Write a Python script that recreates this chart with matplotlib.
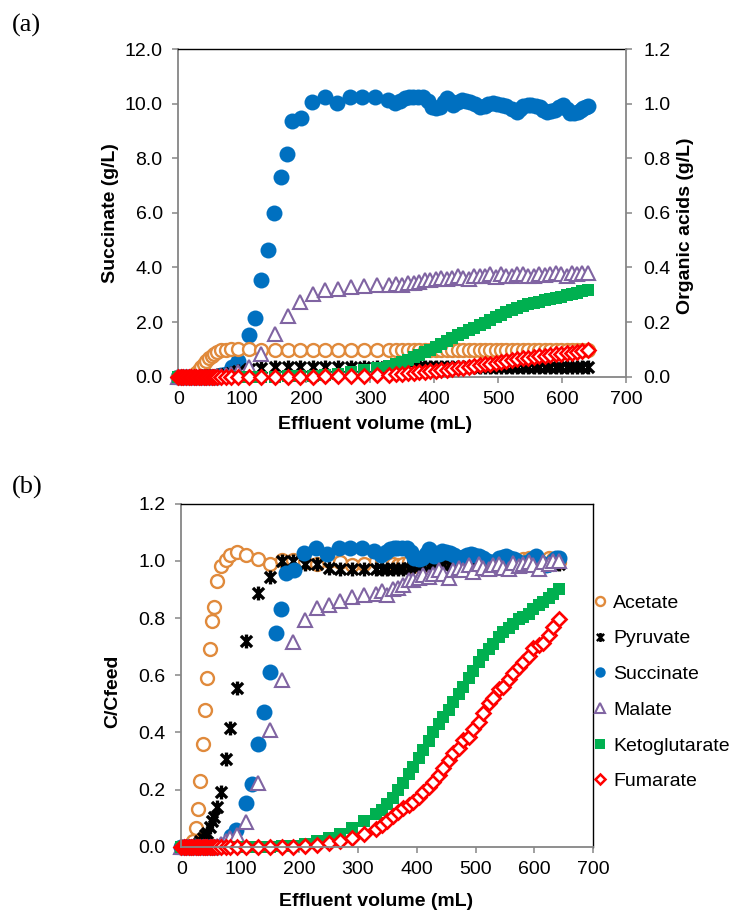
import matplotlib as mpl
mpl.use('Agg')
import matplotlib.pyplot as plt
from matplotlib.lines import Line2D
from matplotlib.path import Path
from matplotlib.ticker import FormatStrFormatter, MultipleLocator
import numpy as np

plt.rcParams['font.family'] = ['Liberation Sans', 'DejaVu Sans']

# effluent volume of the collected fractions (mL)
vol = [0, 4, 8, 12, 16, 20, 24, 28, 32, 36,
       40, 44, 48, 52, 56, 61, 67, 75, 83, 94,
       110, 130, 151, 171, 190, 210, 230, 250, 270, 290,
       310, 330, 340, 350, 359, 368, 377, 386, 394, 403,
       411, 420, 428, 437, 445, 454, 462, 471, 479, 488,
       496, 505, 513, 522, 530, 539, 547, 556, 564, 573,
       581, 590, 598, 607, 615, 624, 632, 641]

# succinate fractions were taken on their own schedule
vol_succ = [0, 4, 8, 12, 16, 20, 24, 28, 32, 36,
            40, 44, 48, 52, 56, 61, 67, 75, 84, 93,
            110, 120, 130, 140, 150, 160, 170, 178, 192, 209,
            229, 248, 268, 287, 307, 328, 339, 347, 354, 361,
            367, 375, 383, 390, 396, 403, 409, 415, 420, 425,
            430, 437, 443, 450, 456, 464, 472, 479, 485, 492,
            498, 506, 513, 521, 529, 534, 539, 546, 552, 559,
            565, 571, 576, 583, 589, 596, 602, 607, 612, 619,
            625, 629, 633, 637, 641]

# breakthrough, C/Cfeed
acetate = [0, 0, 0, 0, 0.005, 0.02, 0.065, 0.132, 0.232, 0.36,
           0.479, 0.59, 0.691, 0.79, 0.84, 0.928, 0.983, 1.001, 1.021, 1.029,
           1.021, 1.006, 0.99, 1.001, 1.001, 0.995, 0.99, 1.0, 0.995, 0.985,
           0.99, 1.0, 1.003, 0.995, 0.99, 0.985, 0.99, 0.995, 0.98, 0.985,
           0.98, 0.99, 0.995, 0.99, 1.0, 0.995, 0.99, 0.985, 0.99, 1.0,
           0.995, 1.0, 1.005, 0.995, 0.99, 1.0, 1.005, 1.0, 0.995, 1.0,
           1.005, 1.01, 1.0, 0.995, 1.0, 1.01, 1.005, 0.997]

pyruvate = [0, 0, 0, 0, 0, 0, 0.005, 0.01, 0.02, 0.03,
            0.042, 0.048, 0.07, 0.09, 0.106, 0.141, 0.193, 0.307, 0.415, 0.555,
            0.721, 0.887, 0.943, 0.998, 0.998, 0.99, 0.99, 0.975, 0.972, 0.972,
            0.972, 0.972, 0.97, 0.972, 0.97, 0.972, 0.97, 0.975, 0.98, 0.982,
            0.985, 0.98, 0.985, 0.99, 0.985, 0.99, 0.985, 0.99, 0.985, 0.99,
            0.99, 0.985, 0.99, 0.985, 0.99, 0.985, 0.99, 0.985, 0.99, 0.985,
            0.99, 0.985, 0.99, 0.985, 0.99, 0.985, 0.99, 0.99]

succinate = [0, 0, 0, 0, 0, 0, 0, 0, 0, 0,
             0, 0, 0, 0, 0, 0, 0.005, 0.01, 0.038, 0.059,
             0.155, 0.22, 0.36, 0.473, 0.611, 0.747, 0.831, 0.957, 0.966, 1.027,
             1.044, 1.022, 1.044, 1.046, 1.044, 1.034, 1.021, 1.03, 1.04, 1.044,
             1.046, 1.045, 1.044, 1.03, 1.009, 1.005, 1.009, 1.025, 1.04, 1.03,
             1.015, 1.025, 1.034, 1.032, 1.028, 1.02, 1.009, 1.012, 1.019, 1.022,
             1.019, 1.015, 1.011, 1.0, 0.99, 1.0, 1.011, 1.014, 1.015, 1.01,
             1.006, 0.998, 0.99, 0.993, 0.997, 1.006, 1.015, 1.0, 0.984, 0.985,
             0.99, 0.997, 1.003, 1.008, 1.011]

malate = [0, 0, 0, 0, 0, 0, 0, 0, 0, 0,
          0, 0, 0, 0, 0, 0.005, 0.01, 0.02, 0.03, 0.042,
          0.089, 0.223, 0.409, 0.584, 0.716, 0.794, 0.835, 0.845, 0.86, 0.875,
          0.881, 0.885, 0.893, 0.881, 0.9, 0.905, 0.915, 0.934, 0.934, 0.94,
          0.95, 0.945, 0.955, 0.969, 0.955, 0.94, 0.969, 0.975, 0.969, 0.985,
          0.96, 0.99, 0.975, 0.97, 0.985, 0.99, 0.975, 0.97, 0.992, 0.98,
          0.99, 0.995, 0.985, 0.97, 0.995, 0.99, 1.0, 1.0]

ketoglutarate = [0, 0, 0, 0, 0, 0, 0, 0, 0, 0,
                 0, 0, 0, 0, 0, 0, 0, 0, 0, 0,
                 0, 0, 0, 0.003, 0.005, 0.01, 0.02, 0.03, 0.045, 0.065,
                 0.09, 0.115, 0.13, 0.15, 0.17, 0.2, 0.225, 0.255, 0.28, 0.31,
                 0.34, 0.37, 0.4, 0.43, 0.455, 0.48, 0.505, 0.535, 0.56, 0.59,
                 0.615, 0.645, 0.67, 0.69, 0.71, 0.735, 0.75, 0.765, 0.78, 0.795,
                 0.805, 0.815, 0.83, 0.845, 0.855, 0.87, 0.885, 0.9]

fumarate = [0, 0, 0, 0, 0, 0, 0, 0, 0, 0,
            0, 0, 0, 0, 0, 0, 0, 0, 0, 0,
            0, 0, 0, 0, 0, 0.003, 0.008, 0.013, 0.02, 0.03,
            0.045, 0.063, 0.078, 0.092, 0.11, 0.123, 0.135, 0.147, 0.158, 0.176,
            0.193, 0.211, 0.228, 0.252, 0.275, 0.304, 0.328, 0.345, 0.374, 0.386,
            0.411, 0.438, 0.467, 0.502, 0.52, 0.551, 0.56, 0.586, 0.607, 0.63,
            0.648, 0.668, 0.695, 0.706, 0.714, 0.741, 0.768, 0.796]

# feed concentrations (g/L)
SUCC_FEED = 9.8
ACET_FEED = 0.098
PYR_FEED = 0.037
MAL_FEED = 0.38
KETO_FEED = 0.353
FUM_FEED = 0.122

ORANGE = '#E08A3C'
BLUE = '#0070C0'
PURPLE = '#8064A2'
GREEN = '#00B050'
RED = '#FF0000'
GRAY = '#868686'

# asterisk: X with a vertical bar
star = Path([(-1, -1), (1, 1), (-1, 1), (1, -1), (0, -1.25), (0, 1.25)],
            [Path.MOVETO, Path.LINETO, Path.MOVETO, Path.LINETO, Path.MOVETO, Path.LINETO])

sty = {
    'Acetate': dict(marker='o', ms=9.3, mfc='white', mec=ORANGE, mew=1.7),
    'Pyruvate': dict(marker=star, ms=10, mfc='none', mec='black', mew=2.4),
    'Succinate': dict(marker='o', ms=11.5, mfc=BLUE, mec=BLUE, mew=0),
    'Malate': dict(marker='^', ms=10, mfc='white', mec=PURPLE, mew=1.5),
    'Ketoglutarate': dict(marker='s', ms=9.3, mfc=GREEN, mec=GREEN, mew=0),
    'Fumarate': dict(marker='D', ms=7, mfc='white', mec=RED, mew=1.9),
}

FS = 14


def dress(ax):
    ax.set_xlim(0, 700)
    ax.xaxis.set_major_locator(MultipleLocator(100))
    ax.spines['left'].set_color(GRAY)
    ax.spines['bottom'].set_color(GRAY)
    ax.spines['left'].set_linewidth(1.3)
    ax.spines['bottom'].set_linewidth(1.3)
    ax.spines['top'].set_color('black')
    ax.spines['top'].set_linewidth(1.0)
    ax.tick_params(axis='both', direction='out', length=4.3, width=1.1,
                   color=GRAY, labelsize=FS, top=False, right=False)
    ax.tick_params(axis='x', pad=6)
    ax.tick_params(axis='y', pad=7)


fig = plt.figure(figsize=(7.33, 9.13), dpi=100)

# ---- (a) concentrations ----
ax_a = fig.add_axes([0.2433, 0.5874, 0.6107, 0.3589])
dress(ax_a)
ax_a.spines['right'].set_visible(False)
ax_a.set_ylim(0, 12)
ax_a.yaxis.set_major_locator(MultipleLocator(2))
ax_a.yaxis.set_major_formatter(FormatStrFormatter('%.1f'))
ax_a.plot(vol_succ, np.array(succinate) * SUCC_FEED, ls='none', clip_on=False,
          **sty['Succinate'])

ax_a2 = ax_a.twinx()
ax_a2.set_ylim(0, 1.2)
ax_a2.yaxis.set_major_locator(MultipleLocator(0.2))
ax_a2.yaxis.set_major_formatter(FormatStrFormatter('%.1f'))
for s in ['left', 'top', 'bottom']:
    ax_a2.spines[s].set_visible(False)
ax_a2.spines['right'].set_color(GRAY)
ax_a2.spines['right'].set_linewidth(1.3)
ax_a2.tick_params(axis='y', direction='out', length=4.3, width=1.1, color=GRAY,
                  labelsize=FS, pad=8)

for name, vals, feed in [('Acetate', acetate, ACET_FEED),
                         ('Pyruvate', pyruvate, PYR_FEED),
                         ('Malate', malate, MAL_FEED),
                         ('Ketoglutarate', ketoglutarate, KETO_FEED),
                         ('Fumarate', fumarate, FUM_FEED)]:
    ax_a2.plot(vol, np.array(vals) * feed, ls='none', clip_on=False, **sty[name])

ax_a.set_ylabel('Succinate (g/L)', fontsize=FS, fontweight='bold')
ax_a.yaxis.set_label_coords(-0.1336, 0.5)
ax_a2.set_ylabel('Organic acids (g/L)', fontsize=FS, fontweight='bold')
ax_a2.yaxis.set_label_coords(1.1139, 0.46)
ax_a.set_xlabel('Effluent volume (mL)', fontsize=FS, fontweight='bold')
ax_a.xaxis.set_label_coords(0.4394, -0.12)

# ---- (b) breakthrough curves ----
ax_b = fig.add_axes([0.2476, 0.0723, 0.5618, 0.3762])
dress(ax_b)
ax_b.spines['right'].set_color('black')
ax_b.spines['right'].set_linewidth(1.0)
ax_b.set_ylim(0, 1.2)
ax_b.yaxis.set_major_locator(MultipleLocator(0.2))
ax_b.yaxis.set_major_formatter(FormatStrFormatter('%.1f'))

series_b = [('Acetate', vol, acetate), ('Pyruvate', vol, pyruvate),
            ('Succinate', vol_succ, succinate), ('Malate', vol, malate),
            ('Ketoglutarate', vol, ketoglutarate), ('Fumarate', vol, fumarate)]
for name, xs, ys in series_b:
    ax_b.plot(xs, ys, ls='none', clip_on=False, **sty[name])

ax_b.set_ylabel('C/Cfeed', fontsize=FS, fontweight='bold')
ax_b.yaxis.set_label_coords(-0.147, 0.454)
ax_b.set_xlabel('Effluent volume (mL)', fontsize=FS, fontweight='bold')
ax_b.xaxis.set_label_coords(0.4723, -0.134)

# legend with small markers
leg_size = {'Acetate': 6.5, 'Pyruvate': 6.5, 'Succinate': 7.5,
            'Malate': 6.5, 'Ketoglutarate': 7, 'Fumarate': 4.8}
handles = []
for name, _, _ in series_b:
    kw = dict(sty[name])
    kw['ms'] = leg_size[name]
    kw['mew'] = min(kw['mew'], 1.8)
    handles.append(Line2D([], [], ls='none', label=name, **kw))
fig.legend(handles=handles, loc='upper left', bbox_to_anchor=(592.2 / 733, 0.3492),
           frameon=False, fontsize=FS, handlelength=0.8, handletextpad=0.28,
           labelspacing=0.93, borderpad=0, borderaxespad=0)

fig.text(12 / 733, 1 - 25 / 913, '(a)', fontsize=19, family='Liberation Serif',
         va='center', ha='left')
fig.text(12 / 733, 1 - 487 / 913, '(b)', fontsize=19, family='Liberation Serif',
         va='center', ha='left')

fig.savefig('out.png', dpi=100)
